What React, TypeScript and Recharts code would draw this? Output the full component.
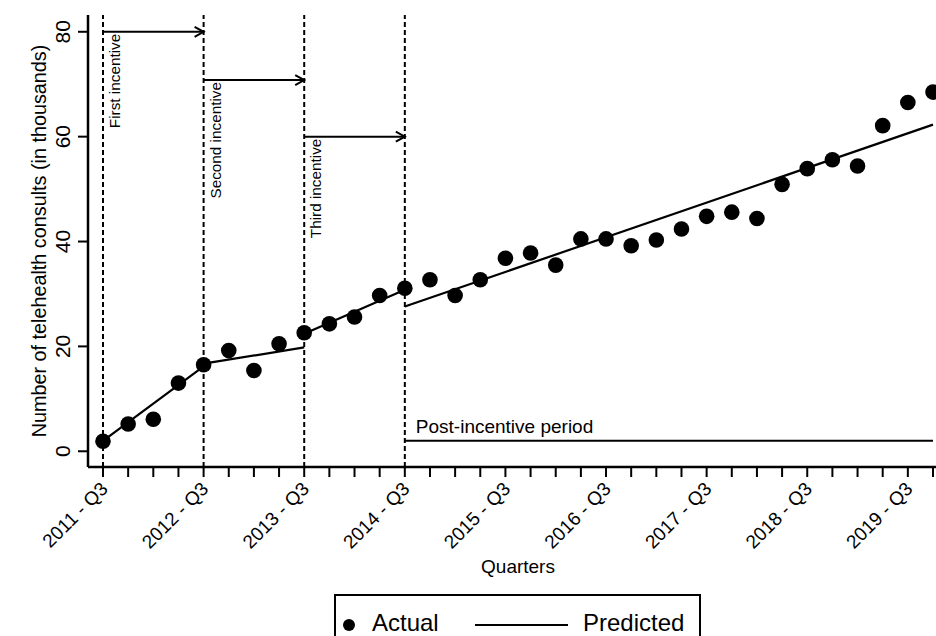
import React from 'react';
import { ComposedChart, Line, XAxis, YAxis, ReferenceLine, Legend } from 'recharts';

const quarters = [
  '2011 - Q3', '2011 - Q4', '2012 - Q1', '2012 - Q2',
  '2012 - Q3', '2012 - Q4', '2013 - Q1', '2013 - Q2',
  '2013 - Q3', '2013 - Q4', '2014 - Q1', '2014 - Q2',
  '2014 - Q3', '2014 - Q4', '2015 - Q1', '2015 - Q2',
  '2015 - Q3', '2015 - Q4', '2016 - Q1', '2016 - Q2',
  '2016 - Q3', '2016 - Q4', '2017 - Q1', '2017 - Q2',
  '2017 - Q3', '2017 - Q4', '2018 - Q1', '2018 - Q2',
  '2018 - Q3', '2018 - Q4', '2019 - Q1', '2019 - Q2',
  '2019 - Q3', '2019 - Q4',
];

// thousands of consults per quarter
const actual = [
  1.9, 5.2, 6.1, 13.0, 16.5, 19.2, 15.4, 20.5,
  22.6, 24.3, 25.6, 29.7, 31.1, 32.7, 29.7, 32.7,
  36.8, 37.8, 35.5, 40.5, 40.5, 39.2, 40.3, 42.4,
  44.8, 45.6, 44.4, 50.9, 53.9, 55.6, 54.4, 62.1,
  66.5, 68.5,
];

// predicted trend, one straight segment per period
const predStart = ['2011 - Q3', '2012 - Q3', '2013 - Q3', '2014 - Q3'];
const predEnd = ['2012 - Q3', '2013 - Q3', '2014 - Q3', '2019 - Q4'];
const predFrom = [2.0, 16.7, 22.4, 27.6];
const predTo = [16.2, 19.8, 30.8, 62.3];

const periodLines = ['2011 - Q3', '2012 - Q3', '2013 - Q3', '2014 - Q3'];
const incentives = ['First incentive', 'Second incentive', 'Third incentive'];
const incentiveLevels = [80, 70.8, 60];
const postLabel = 'Post-incentive period';
const postLevel = 2.0;
const yTicks = [0, 20, 40, 60, 80];

const data = quarters.map((q, i) => {
  const row: Record<string, string | number | null> = { quarter: q, actual: actual[i] };
  predStart.forEach((s, k) => {
    row['p' + k] = q === s ? predFrom[k] : q === predEnd[k] ? predTo[k] : null;
  });
  return row;
});

const font = '"Liberation Sans", Arial, Helvetica, sans-serif';

const YTick = ({ x, y, payload }: any) => (
  <text x={x - 6} y={y} transform={`rotate(-90 ${x - 6} ${y})`} textAnchor="middle" fontSize={21} fill="#000">
    {payload.value}
  </text>
);

const XTick = ({ x, y, payload }: any) => {
  if (!String(payload.value).endsWith('Q3')) return <g />;
  const tx = x + 6;
  const ty = y + 11;
  return (
    <text x={tx} y={ty} transform={`rotate(-45 ${tx} ${ty})`} textAnchor="end" fontSize={19} fill="#000">
      {payload.value}
    </text>
  );
};

const YTitle = (props: any) => {
  const vb = props.viewBox;
  const tx = vb.x + 46;
  const ty = vb.y + vb.height / 2;
  return (
    <text x={tx} y={ty} transform={`rotate(-90 ${tx} ${ty})`} textAnchor="middle" fontSize={19.8} fill="#000">
      Number of telehealth consults (in thousands)
    </text>
  );
};

const Arrow = (p: any) => {
  const { x1, y1, x2, y2 } = p;
  return (
    <g>
      <line x1={x1} y1={y1} x2={x2} y2={y2} stroke="#000" strokeWidth={2} />
      <path d={`M${x2 - 9},${y2 - 5} L${x2},${y2} L${x2 - 9},${y2 + 5}`} fill="none" stroke="#000" strokeWidth={2} />
    </g>
  );
};

const incentiveLabel = (text: string) => (props: any) => {
  const vb = props.viewBox;
  const tx = vb.x + 17;
  const ty = vb.y + 2;
  return (
    <text x={tx} y={ty} transform={`rotate(-90 ${tx} ${ty})`} textAnchor="end" fontSize={15.3} fill="#000">
      {text}
    </text>
  );
};

const postPeriodLabel = (props: any) => {
  const vb = props.viewBox;
  return (
    <text x={vb.x + 11} y={vb.y - 8} fontSize={19} fill="#000">
      {postLabel}
    </text>
  );
};

const renderLegend = (props: any) => {
  const items = (props.payload || []).filter((it: any) => it.type !== 'none');
  const slots = [
    { icon: 15, text: 38 },
    { icon: 141, text: 249 },
  ];
  return (
    <svg width={367} height={42} style={{ display: 'block' }}>
      <rect x={1} y={1} width={365} height={70} fill="#fff" stroke="#000" strokeWidth={2} />
      {items.slice(0, slots.length).map((it: any, i: number) => (
        <g key={it.value + i}>
          {it.type === 'circle' ? (
            <circle cx={slots[i].icon} cy={31} r={6} fill="#000" />
          ) : (
            <line x1={slots[i].icon} y1={31} x2={slots[i].icon + 93} y2={31} stroke="#000" strokeWidth={2} />
          )}
          <text x={slots[i].text} y={37} fontSize={24} fill="#000" fontFamily={font}>
            {it.value}
          </text>
        </g>
      ))}
    </svg>
  );
};

export default function App() {
  return (
    <div
      style={{
        position: 'absolute',
        left: 0,
        top: 0,
        width: 936,
        height: 636,
        overflow: 'hidden',
        background: '#fff',
        fontFamily: font,
      }}
    >
      <ComposedChart width={948} height={660} data={data} margin={{ top: 15, right: 0, bottom: 0, left: 0 }}>
        <XAxis
          dataKey="quarter"
          scale="point"
          padding={{ left: 15, right: 15 }}
          interval={0}
          tickSize={10}
          height={193}
          axisLine={{ stroke: '#000', strokeWidth: 2.5 }}
          tickLine={{ stroke: '#000', strokeWidth: 2 }}
          tick={<XTick />}
          label={{ value: 'Quarters', position: 'insideBottom', offset: 87, fontSize: 19, fill: '#000' }}
        />
        <YAxis
          type="number"
          domain={[-3, 83.2]}
          ticks={yTicks}
          width={88}
          tickSize={10}
          axisLine={{ stroke: '#000', strokeWidth: 2.5 }}
          tickLine={{ stroke: '#000', strokeWidth: 2 }}
          tick={<YTick />}
          label={YTitle}
        />
        {periodLines.map((q) => (
          <ReferenceLine key={q} x={q} stroke="#000" strokeWidth={2} strokeDasharray="5 3" />
        ))}
        {incentives.map((name, k) => (
          <ReferenceLine
            key={name}
            segment={[
              { x: periodLines[k], y: incentiveLevels[k] },
              { x: periodLines[k + 1], y: incentiveLevels[k] },
            ]}
            shape={Arrow}
            label={incentiveLabel(name)}
          />
        ))}
        <ReferenceLine
          segment={[
            { x: periodLines[3], y: postLevel },
            { x: quarters[quarters.length - 1], y: postLevel },
          ]}
          stroke="#000"
          strokeWidth={2}
          label={postPeriodLabel}
        />
        {predStart.map((s, k) => (
          <Line
            key={s}
            dataKey={'p' + k}
            name="Predicted"
            stroke="#000"
            strokeWidth={2.2}
            dot={false}
            activeDot={false}
            connectNulls
            legendType={k === 0 ? 'line' : 'none'}
            isAnimationActive={false}
          />
        ))}
        <Line
          dataKey="actual"
          name="Actual"
          stroke="none"
          dot={{ r: 7.8, fill: '#000', stroke: 'none' }}
          activeDot={false}
          legendType="circle"
          isAnimationActive={false}
        />
        <Legend
          verticalAlign="middle"
          align="center"
          layout="horizontal"
          wrapperStyle={{ left: 334, top: 594, width: 367, height: 42 }}
          content={renderLegend}
        />
      </ComposedChart>
    </div>
  );
}
